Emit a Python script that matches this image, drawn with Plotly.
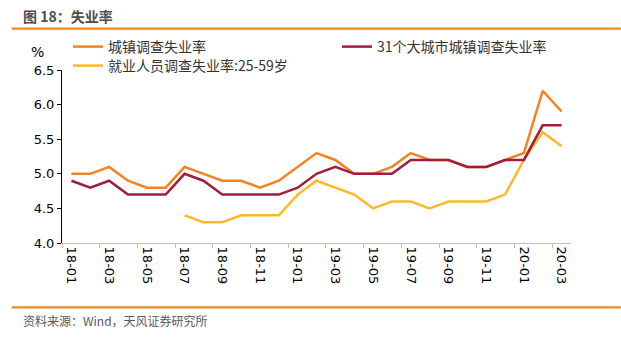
import plotly.graph_objects as go

months = ["18-01", "18-02", "18-03", "18-04", "18-05", "18-06", "18-07", "18-08", "18-09",
          "18-10", "18-11", "18-12", "19-01", "19-02", "19-03", "19-04", "19-05", "19-06",
          "19-07", "19-08", "19-09", "19-10", "19-11", "19-12", "20-01", "20-02", "20-03"]
tick_labels = months[::2]

urban = [5.0, 5.0, 5.1, 4.9, 4.8, 4.8, 5.1, 5.0, 4.9, 4.9, 4.8, 4.9,
         5.1, 5.3, 5.2, 5.0, 5.0, 5.1, 5.3, 5.2, 5.2, 5.1, 5.1, 5.2,
         5.3, 6.2, 5.9]
city31 = [4.9, 4.8, 4.9, 4.7, 4.7, 4.7, 5.0, 4.9, 4.7, 4.7, 4.7, 4.7,
          4.8, 5.0, 5.1, 5.0, 5.0, 5.0, 5.2, 5.2, 5.2, 5.1, 5.1, 5.2,
          5.2, 5.7, 5.7]
age2559 = [None, None, None, None, None, None, 4.4, 4.3, 4.3, 4.4, 4.4, 4.4,
           4.7, 4.9, 4.8, 4.7, 4.5, 4.6, 4.6, 4.5, 4.6, 4.6, 4.6, 4.7,
           5.2, 5.6, 5.4]

names = ["城镇调查失业率", "31个大城市城镇调查失业率", "就业人员调查失业率:25-59岁"]
colors = ["#F5821F", "#A21C3C", "#FDB92A"]

W, H = 621, 337
L, R, T, B = 62.3, 571.2, 70.3, 243.3

fig = go.Figure()
fig.add_trace(go.Scatter(x=months, y=urban, name=names[0], mode="lines",
                         line=dict(color=colors[0], width=2.5), legend="legend"))
fig.add_trace(go.Scatter(x=months, y=age2559, name=names[2], mode="lines",
                         line=dict(color=colors[2], width=2.5), legend="legend3"))
fig.add_trace(go.Scatter(x=months, y=city31, name=names[1], mode="lines",
                         line=dict(color=colors[1], width=2.5), legend="legend2"))
# invisible trace for boundary tick marks
fig.add_trace(go.Scatter(x=[None], y=[None], xaxis="x2", showlegend=False, hoverinfo="skip"))

tickfont = dict(family="DejaVu Sans, sans-serif", size=13, color="#000000")
cjk = "Noto Sans CJK SC, sans-serif"


def leg(xpx, ypx):
    return dict(orientation="v", xref="container", yref="container",
                x=xpx / W, y=1 - ypx / H, xanchor="left", yanchor="top",
                font=dict(family=cjk, size=14, color="#333333"),
                bgcolor="rgba(0,0,0,0)", itemwidth=30)


fig.update_layout(
    width=W, height=H,
    margin=dict(l=L, r=W - R, t=T, b=H - B, pad=0, autoexpand=False),
    paper_bgcolor="white", plot_bgcolor="white",
    showlegend=True,
    legend=leg(68, 31),
    legend2=leg(337, 31),
    legend3=leg(68, 50),
    xaxis=dict(type="category", categoryorder="array", categoryarray=months,
               range=[-0.5, len(months) - 0.5], automargin=False,
               tickmode="array", tickvals=tick_labels, ticktext=tick_labels,
               tickangle=90, ticks="", showgrid=False, zeroline=False,
               showline=True, linecolor="#BFBFBF", linewidth=1,
               tickfont=tickfont, fixedrange=True),
    xaxis2=dict(overlaying="x", range=[-0.5, len(months) - 0.5], automargin=False,
                tickmode="array", tickvals=[i - 0.5 for i in range(0, len(months), 2)],
                ticks="outside", ticklen=4, tickcolor="#BFBFBF", tickwidth=1,
                showticklabels=False, showgrid=False, zeroline=False, showline=False,
                anchor="y", side="bottom"),
    yaxis=dict(range=[4.0, 6.5], dtick=0.5, tickformat=".1f", ticks="outside",
               ticklen=4, tickcolor="#000000", showline=True, linecolor="#000000",
               linewidth=1, showgrid=False, zeroline=False, tickfont=tickfont,
               automargin=False),
)

# % unit label
fig.add_annotation(text="%", xref="paper", yref="paper", x=-24 / (R - L), y=1 + 18 / (B - T),
                   showarrow=False, xanchor="center", yanchor="middle",
                   font=dict(family="DejaVu Sans, sans-serif", size=14, color="#000000"))
# title
fig.add_annotation(text="<b>图 18：失业率</b>", xref="paper", yref="paper",
                   x=(21 - L) / (R - L), y=1 + (T - 16) / (B - T),
                   showarrow=False, xanchor="left", yanchor="middle",
                   font=dict(family=cjk, size=14, color="#4D4D4D"))
# source
fig.add_annotation(text="资料来源：Wind，天风证券研究所", xref="paper", yref="paper",
                   x=(21 - L) / (R - L), y=-(321 - B) / (B - T),
                   showarrow=False, xanchor="left", yanchor="middle",
                   font=dict(family=cjk, size=12, color="#595959"))
# orange rules
for yy in (29, 307.7):
    fig.add_shape(type="line", xref="paper", yref="paper",
                  x0=(12 - L) / (R - L), x1=(W - L) / (R - L),
                  y0=(B - yy) / (B - T), y1=(B - yy) / (B - T),
                  line=dict(color="#F08A24", width=2.2))

fig.write_html("out.html")
